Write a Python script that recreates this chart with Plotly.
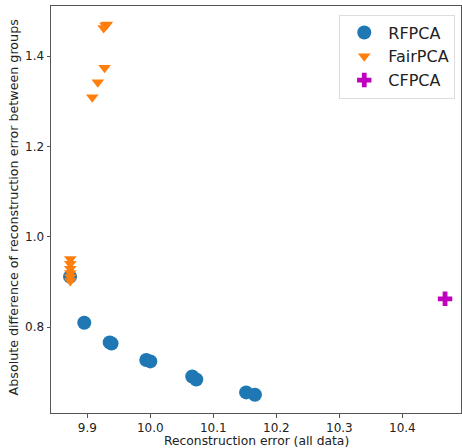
import plotly.graph_objects as go

# Data
rfpca_x = [9.8726, 9.8952, 9.9355, 9.9385, 9.9936, 10.0, 10.0665, 10.0729, 10.152, 10.166]
rfpca_y = [0.9116, 0.8097, 0.766, 0.7635, 0.727, 0.724, 0.6906, 0.684, 0.6553, 0.650]

fairpca_x = [9.931, 9.929, 9.926, 9.9274, 9.9167, 9.9079,
             9.873, 9.873, 9.873, 9.873, 9.873, 9.873]
fairpca_y = [1.470, 1.468, 1.4625, 1.3742, 1.342, 1.309,
             0.951, 0.940, 0.929, 0.920, 0.911, 0.902]

cfpca_x = [10.4677]
cfpca_y = [0.8626]

x_ticks = [9.9, 10.0, 10.1, 10.2, 10.3, 10.4]
y_ticks = [0.8, 1.0, 1.2, 1.4]

FONT = "DejaVu Sans"

fig = go.Figure()
fig.add_trace(go.Scatter(x=rfpca_x, y=rfpca_y, mode="markers", name="RFPCA",
                         marker=dict(symbol="circle", size=14, color="#1f77b4")))
fig.add_trace(go.Scatter(x=fairpca_x, y=fairpca_y, mode="markers", name="FairPCA",
                         marker=dict(symbol="triangle-down", size=11, color="#ff7f0e")))
fig.add_trace(go.Scatter(x=cfpca_x, y=cfpca_y, mode="markers", name="CFPCA",
                         marker=dict(symbol="cross", size=12, color="#bf00bf")))

axis_common = dict(showgrid=False, zeroline=False, showline=True, mirror=True,
                   linecolor="#555555", linewidth=1, ticks="outside", ticklen=3.5,
                   tickcolor="#555555", tickfont=dict(family=FONT, size=12, color="#222222"),
                   tickformat=".1f")

fig.update_layout(
    width=462, height=448,
    margin=dict(l=51, r=1, t=6, b=35),
    paper_bgcolor="white", plot_bgcolor="white",
    font=dict(family=FONT, color="#222222"),
    xaxis=dict(range=[9.8424, 10.493], tickvals=x_ticks, **axis_common),
    yaxis=dict(range=[0.6097, 1.511], tickvals=y_ticks, **axis_common),
    legend=dict(x=0.986, y=0.979, xanchor="right", yanchor="top",
                bgcolor="white", bordercolor="#dddddd", borderwidth=1,
                font=dict(family=FONT, size=16, color="#222222"),
                itemwidth=38, tracegroupgap=0),
    showlegend=True,
    annotations=[
        dict(text="Reconstruction error (all data)", xref="paper", yref="paper",
             x=0.5, y=-0.0688, xanchor="center", yanchor="middle", showarrow=False,
             borderpad=0,
             font=dict(family=FONT, size=12.3, color="#222222")),
        dict(text="Absolute difference of reconstruction error between groups",
             xref="paper", yref="paper", x=-0.0927, y=0.505, xanchor="center",
             yanchor="middle", textangle=-90, showarrow=False,
             font=dict(family=FONT, size=12.7, color="#222222")),
    ],
)

fig.write_html("out.html")
